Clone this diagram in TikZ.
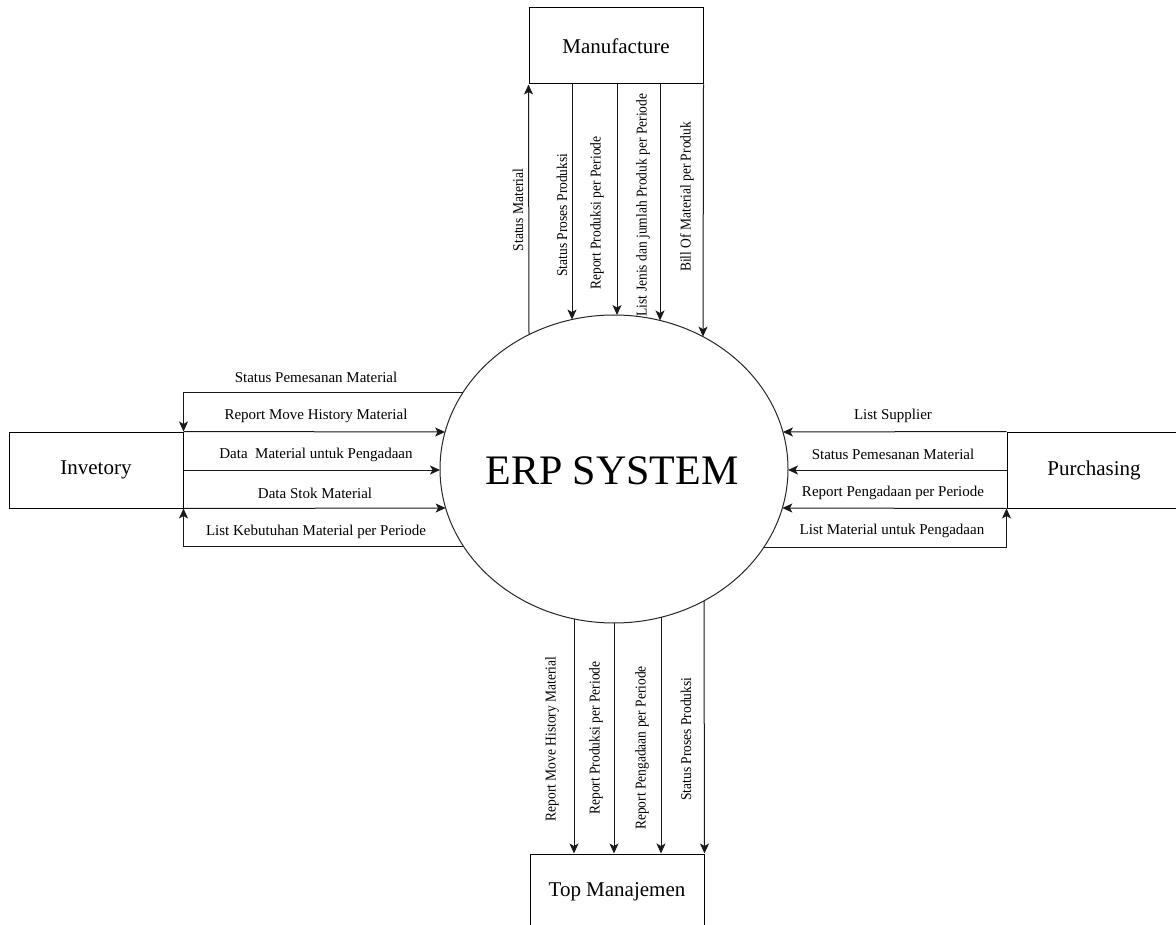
\documentclass[tikz,border=0pt]{standalone}
\usepackage{fontspec}
\setmainfont{Liberation Serif}
\newfontfamily\condserif[FakeStretch=0.9]{Liberation Serif}
\usetikzlibrary{shapes.geometric,arrows.meta,calc}

\tikzset{
  entity/.style={draw=black, line width=1pt, minimum width=174pt, minimum height=76pt,
                 inner sep=0pt, font=\fontsize{21}{24}\selectfont},
  flow/.style={draw=black!90, line width=1pt, -{Stealth[length=10pt,width=9pt,inset=2.5pt]}},
  hlabel/.style={font=\fontsize{15}{17}\selectfont, inner sep=0pt},
  vlabel/.style={font=\condserif\fontsize{15}{17}\selectfont, inner sep=0pt, rotate=90},
}

\begin{document}
\begin{tikzpicture}[x=1pt, y=-1pt]
\useasboundingbox (0,0) rectangle (1176,925);

% central process
\node[ellipse, draw=black!85, line width=1pt, minimum width=348pt, minimum height=308pt,
      inner sep=0pt] (erp) at (614,469) {};
\node[font=\fontsize{42}{46}\selectfont, inner sep=0pt] (erptext) at (612,471) {ERP SYSTEM};

% external entities
\node[entity] (manu) at (616,46)   {Manufacture};
\node[entity] (inv)  at (96,470)   {Invetory};
\node[entity] (pur)  at (1094,470) {Purchasing};
\node[entity] (tm)   at (617,892)  {Top Manajemen};

% points on the ellipse where the flows meet it
\coordinate (eT1) at ($(erp.center)+(-85,{-154*sqrt(1-(85/174)^2)})$);
\coordinate (eT2) at ($(erp.center)+(-42,{-154*sqrt(1-(42/174)^2)})$);
\coordinate (eT3) at ($(erp.center)+(3,{-154*sqrt(1-(3/174)^2)})$);
\coordinate (eT4) at ($(erp.center)+(46,{-154*sqrt(1-(46/174)^2)})$);
\coordinate (eT5) at ($(erp.center)+(89,{-154*sqrt(1-(89/174)^2)})$);

\coordinate (eB1) at ($(erp.center)+(-40,{154*sqrt(1-(40/174)^2)})$);
\coordinate (eB2) at ($(erp.center)+(0,154)$);
\coordinate (eB3) at ($(erp.center)+(47,{154*sqrt(1-(47/174)^2)})$);
\coordinate (eB4) at ($(erp.center)+(90,{154*sqrt(1-(90/174)^2)})$);

\coordinate (eL1) at ($(erp.center)+({-174*sqrt(1-(76/154)^2)},-76)$);
\coordinate (eL2) at ($(erp.center)+({-174*sqrt(1-(37/154)^2)},-37)$);
\coordinate (eL3) at ($(erp.center)+({-174*sqrt(1-(1/154)^2)},1)$);
\coordinate (eL4) at ($(erp.center)+({-174*sqrt(1-(39/154)^2)},39)$);
\coordinate (eL5) at ($(erp.center)+({-174*sqrt(1-(77/154)^2)},77)$);

\coordinate (eR1) at ($(erp.center)+({174*sqrt(1-(37/154)^2)},-37)$);
\coordinate (eR2) at ($(erp.center)+({174*sqrt(1-(1/154)^2)},1)$);
\coordinate (eR3) at ($(erp.center)+({174*sqrt(1-(39/154)^2)},39)$);
\coordinate (eR4) at ($(erp.center)+({174*sqrt(1-(78/154)^2)},78)$);

% flows with Manufacture
\draw[flow] (eT1) -- (manu.south west);
\draw[flow] (eT2 |- manu.south) -- (eT2);
\draw[flow] (eT3 |- manu.south) -- (eT3);
\draw[flow] (eT4 |- manu.south) -- (eT4);
\draw[flow] (manu.south east) -- (eT5);

\node[vlabel] (lm1) at (518,210) {Status Material};
\node[vlabel] (lm2) at (562,215) {Status Proses Produksi};
\node[vlabel] (lm3) at (597,213) {Report Produksi per Periode};
\node[vlabel] (lm4) at (643,205) {List Jenis dan jumlah Produk per Periode};
\node[vlabel] (lm5) at (687,197) {Bill Of Material per Produk};

% flows with Top Manajemen
\draw[flow] (eB1) -- (eB1 |- tm.north);
\draw[flow] (eB2) -- (eB2 |- tm.north);
\draw[flow] (eB3) -- (eB3 |- tm.north);
\draw[flow] (eB4) -- (tm.north east);

\node[vlabel] (lt1) at (552,739) {Report Move History Material};
\node[vlabel] (lt2) at (596,738) {Report Produksi per Periode};
\node[vlabel] (lt3) at (642,748) {Report Pengadaan per Periode};
\node[vlabel] (lt4) at (686,739) {Status Proses Produksi};

% flows with Invetory
\draw[flow] (eL1) -- (eL1 -| inv.north east) -- (inv.north east);
\draw[flow] (inv.north east) -- (eL2);
\draw[flow] (inv.east) -- (eL3);
\draw[flow] (inv.south east) -- (eL4);
\draw[flow] (eL5) -- (eL5 -| inv.south east) -- (inv.south east);

\node[hlabel] (li1) at (316,377) {Status Pemesanan Material};
\node[hlabel] (li2) at (316,416) {Report Move History Material};
\node[hlabel] (li3) at (316,455) {Data\ \ Material untuk Pengadaan};
\node[hlabel] (li4) at (315,493) {Data Stok Material};
\node[hlabel] (li5) at (316,532) {List Kebutuhan Material per Periode};

% flows with Purchasing
\draw[flow] (pur.north west) -- (eR1);
\draw[flow] (pur.west) -- (eR2);
\draw[flow] (pur.south west) -- (eR3);
\draw[flow] (eR4) -- (eR4 -| pur.south west) -- (pur.south west);

\node[hlabel] (lp1) at (893,416) {List Supplier};
\node[hlabel] (lp2) at (893,454) {Status Pemesanan Material};
\node[hlabel] (lp3) at (893,493) {Report Pengadaan per Periode};
\node[hlabel] (lp4) at (892,531) {List Material untuk Pengadaan};
\end{tikzpicture}
\end{document}
